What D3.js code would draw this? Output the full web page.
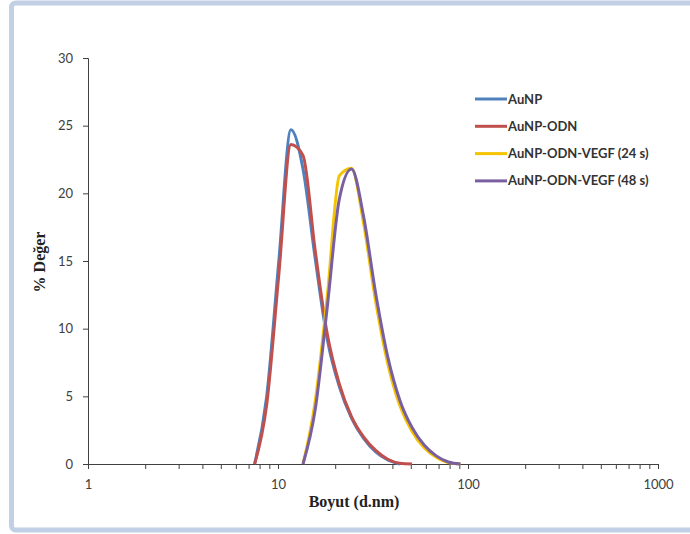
<!DOCTYPE html>
<html>
<head>
<meta charset="utf-8">
<title>DLS size distribution</title>
<script src="https://d3js.org/d3.v7.min.js"></script>
<style>
  body { margin: 0; background: #fff; }
  svg { display: block; }
</style>
</head>
<body>
<div id="chart"></div>
<script>
// size bins (d.nm)
var sizes = [6.503, 7.531, 8.721, 10.1, 11.7, 13.54, 15.69, 18.17, 21.04, 24.36,
             28.21, 32.67, 37.84, 43.82, 50.75, 58.77, 68.06, 78.82, 91.28, 105.7];

// % values per sample
var auNP     = [0, 0, 5.0, 15.0, 24.7, 21.8, 15.2, 9.2, 5.7, 3.4, 1.9, 0.9, 0.3, 0, 0, 0, 0, 0, 0, 0];
var auNPODN  = [0, 0, 4.4, 14.0, 23.6, 22.8, 15.8, 9.6, 5.9, 3.5, 2.0, 1.0, 0.35, 0.05, 0, 0, 0, 0, 0, 0];
var vegf24   = [0, 0, 0, 0, 0, 0, 4.6, 12.4, 21.3, 21.85, 17.8, 12.0, 7.4, 4.3, 2.4, 1.2, 0.5, 0.1, 0, 0];
var vegf48   = [0, 0, 0, 0, 0, 0, 4.0, 11.6, 19.6, 21.8, 18.3, 12.6, 7.9, 4.7, 2.7, 1.4, 0.6, 0.15, 0, 0];

var seriesNames  = ["AuNP", "AuNP-ODN", "AuNP-ODN-VEGF (24 s)", "AuNP-ODN-VEGF (48 s)"];
var seriesColors = ["#4f81bd", "#c0504d", "#f5c400", "#7a5fa0"];
var seriesValues = [auNP, auNPODN, vegf24, vegf48];

var xTicks = [1, 10, 100, 1000];
var yTicks = [0, 5, 10, 15, 20, 25, 30];

var W = 690, H = 534;
var svg = d3.select("#chart").append("svg").attr("width", W).attr("height", H);

// outer frame
svg.append("rect")
  .attr("x", 11.5).attr("y", 3).attr("width", 720).attr("height", 527)
  .attr("rx", 4)
  .attr("fill", "#fff")
  .attr("stroke", "#c2d0e6").attr("stroke-width", 5);

var x = d3.scaleLog().domain([1, 1000]).range([88, 658]);
var y = d3.scaleLinear().domain([0, 30]).range([464, 58]);

var axisColor = "#404040";
var tickFont = "Lato, 'Open Sans', sans-serif";

// y axis
var yAxis = svg.append("g").attr("transform", "translate(88,0)")
  .call(d3.axisLeft(y).tickValues(yTicks).tickSize(5).tickPadding(10));
yAxis.select(".domain").attr("stroke", axisColor);
yAxis.selectAll(".tick line").attr("stroke", axisColor);
yAxis.selectAll("text").attr("font-family", tickFont).attr("font-size", 13).attr("fill", axisColor);

// x axis with minor ticks
var minor = [];
xTicks.slice(0, -1).forEach(function(d) {
  for (var k = 2; k <= 9; k++) minor.push(d * k);
});
var xAxis = svg.append("g").attr("transform", "translate(0,464)")
  .call(d3.axisBottom(x).tickValues(xTicks.concat(minor)).tickSize(5).tickPadding(11)
    .tickFormat(function(d) { return xTicks.indexOf(d) >= 0 ? d : ""; }));
xAxis.select(".domain").attr("stroke", axisColor);
xAxis.selectAll(".tick line").attr("stroke", axisColor);
xAxis.selectAll("text").attr("font-family", tickFont).attr("font-size", 13).attr("fill", axisColor);

// axis titles
svg.append("text")
  .attr("x", 354).attr("y", 507)
  .attr("text-anchor", "middle")
  .attr("font-family", "'Liberation Serif', 'Times New Roman', serif")
  .attr("font-weight", "bold").attr("font-size", 16).attr("fill", "#222")
  .text("Boyut (d.nm)");

svg.append("text")
  .attr("transform", "translate(45,262) rotate(-90)")
  .attr("text-anchor", "middle")
  .attr("font-family", "'Liberation Serif', 'Times New Roman', serif")
  .attr("font-weight", "bold").attr("font-size", 16).attr("fill", "#222")
  .text("% Değer");

// curves
var line = d3.line()
  .x(function(d) { return x(d[0]); })
  .y(function(d) { return y(d[1]); })
  .curve(d3.curveMonotoneX);

// keep one zero point on each side of the peak
function trimZeros(pts) {
  var first = pts.findIndex(function(p) { return p[1] > 0; });
  var last = pts.length - 1;
  while (last > 0 && pts[last][1] === 0) last--;
  return pts.slice(Math.max(0, first - 1), Math.min(pts.length, last + 2));
}

seriesValues.forEach(function(vals, i) {
  var pts = trimZeros(sizes.map(function(s, j) { return [s, vals[j]]; }));
  svg.append("path")
    .datum(pts)
    .attr("d", line)
    .attr("fill", "none")
    .attr("stroke", seriesColors[i])
    .attr("stroke-width", 3)
    .attr("stroke-linejoin", "round");
});

// legend
var legend = svg.append("g").attr("transform", "translate(475,99)");
seriesNames.forEach(function(name, i) {
  var g = legend.append("g").attr("transform", "translate(0," + (i * 27.3) + ")");
  g.append("line").attr("x1", 0).attr("x2", 32).attr("y1", 0).attr("y2", 0)
    .attr("stroke", seriesColors[i]).attr("stroke-width", 3);
  g.append("text").attr("x", 33).attr("y", 4.5)
    .attr("font-family", tickFont).attr("font-weight", "bold").attr("font-size", 13)
    .attr("fill", "#333")
    .text(name);
});
</script>
</body>
</html>
